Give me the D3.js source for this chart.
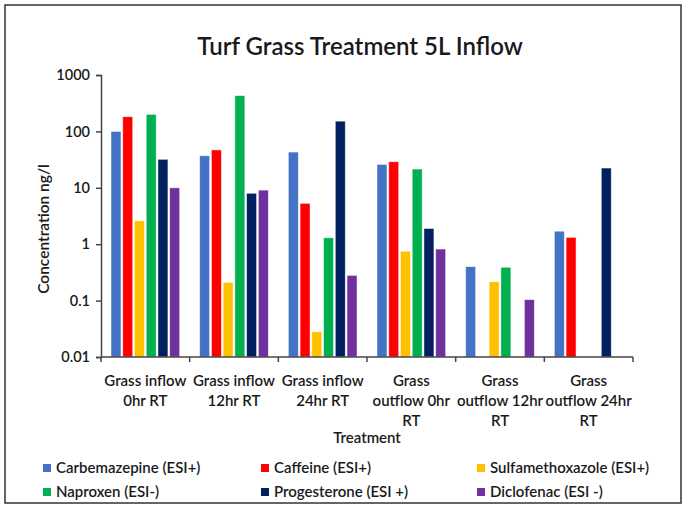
<!DOCTYPE html>
<html>
<head>
<meta charset="utf-8">
<script src="https://cdn.jsdelivr.net/npm/d3@7"></script>
<style>
  body { margin: 0; background: #fff; }
  text { font-family: Lato, "Open Sans", sans-serif; fill: #1a1a1a; font-weight: 600; }
</style>
</head>
<body>
<div class="canvas"></div>
<script>
const categories = [
  ["Grass inflow", "0hr RT"],
  ["Grass inflow", "12hr RT"],
  ["Grass inflow", "24hr RT"],
  ["Grass", "outflow 0hr", "RT"],
  ["Grass", "outflow 12hr", "RT"],
  ["Grass", "outflow 24hr", "RT"],
];

const seriesNames = [
  "Carbemazepine (ESI+)",
  "Caffeine (ESI+)",
  "Sulfamethoxazole (ESI+)",
  "Naproxen (ESI-)",
  "Progesterone (ESI +)",
  "Diclofenac (ESI -)",
];

const seriesColors = ["#4472C4", "#FF0000", "#FFC000", "#00B050", "#002060", "#7030A0"];

// one value per category, null = not detected
const carbemazepine = [100, 37, 43, 26, 0.4, 1.7];
const caffeine = [182, 47, 5.3, 29, null, 1.32];
const sulfamethoxazole = [2.6, 0.21, 0.028, 0.75, 0.216, null];
const naproxen = [200, 430, 1.3, 21.5, 0.39, null];
const progesterone = [32, 8, 152, 1.9, null, 22.4];
const diclofenac = [10, 9.1, 0.28, 0.82, 0.104, null];

const seriesValues = [carbemazepine, caffeine, sulfamethoxazole, naproxen, progesterone, diclofenac];

const yTicks = [0.01, 0.1, 1, 10, 100, 1000];

const dims = { width: 688, height: 506 };
const plot = { left: 101, right: 633, top: 75, bottom: 357 };

const svg = d3
  .select(".canvas")
  .append("svg")
  .attr("width", dims.width)
  .attr("height", dims.height);

// outer frame
svg
  .append("rect")
  .attr("x", 5)
  .attr("y", 5)
  .attr("width", 676)
  .attr("height", 498)
  .attr("fill", "#fff")
  .attr("stroke", "#333")
  .attr("stroke-width", 1.5);

svg
  .append("text")
  .attr("x", 360)
  .attr("y", 55)
  .attr("text-anchor", "middle")
  .attr("font-size", 24)
  .text("Turf Grass Treatment 5L Inflow");

const catIdx = categories.map((d, i) => i);

const x0 = d3.scaleBand().domain(catIdx).range([plot.left, plot.right]).padding(0);

const x1 = d3
  .scaleBand()
  .domain(seriesNames)
  .range([10, x0.bandwidth() - 10])
  .paddingInner(0.15);

const y = d3.scaleLog().domain([0.01, 1000]).range([plot.bottom, plot.top]);

// bars
const groups = svg
  .append("g")
  .selectAll("g")
  .data(seriesNames)
  .join("g")
  .attr("fill", (d, i) => seriesColors[i]);

groups
  .selectAll("rect")
  .data((d, i) =>
    seriesValues[i]
      .map((v, c) => ({ name: d, cat: c, value: v }))
      .filter((o) => o.value != null)
  )
  .join("rect")
  .attr("x", (d) => x0(d.cat) + x1(d.name))
  .attr("width", x1.bandwidth())
  .attr("y", (d) => y(d.value))
  .attr("height", (d) => plot.bottom - y(d.value))
  .attr("stroke", "#fff")
  .attr("stroke-opacity", 0.6)
  .attr("stroke-width", 0.8);

// y axis
const yAxis = svg
  .append("g")
  .attr("transform", `translate(${plot.left},0)`)
  .call(
    d3
      .axisLeft(y)
      .tickValues(yTicks)
      .tickFormat((d) => String(d))
      .tickSize(5)
      .tickPadding(6)
  );
yAxis.select(".domain").attr("stroke", "#444").attr("stroke-width", 1.5);
yAxis.selectAll(".tick line").attr("stroke", "#444").attr("stroke-width", 1.5);
yAxis
  .selectAll(".tick text")
  .attr("font-size", 14.5)
  .attr("font-family", "Lato, sans-serif")
  .attr("fill", "#1a1a1a");

// x axis line + category boundary ticks
const xAxis = svg.append("g");
xAxis
  .append("line")
  .attr("x1", plot.left)
  .attr("x2", plot.right)
  .attr("y1", plot.bottom)
  .attr("y2", plot.bottom)
  .attr("stroke", "#444")
  .attr("stroke-width", 1.5);

xAxis
  .selectAll("line.tk")
  .data(catIdx.concat([categories.length]))
  .join("line")
  .attr("class", "tk")
  .attr("x1", (d) => (d < categories.length ? x0(d) : plot.right))
  .attr("x2", (d) => (d < categories.length ? x0(d) : plot.right))
  .attr("y1", plot.bottom)
  .attr("y2", plot.bottom + 5)
  .attr("stroke", "#444")
  .attr("stroke-width", 1.5);

const xLabels = xAxis
  .selectAll("text.cat")
  .data(categories)
  .join("text")
  .attr("class", "cat")
  .attr("text-anchor", "middle")
  .attr("font-size", 15);

xLabels
  .selectAll("tspan")
  .data((d, i) => d.map((line, j) => ({ line, j, i })))
  .join("tspan")
  .attr("x", (d) => x0(d.i) + x0.bandwidth() / 2)
  .attr("y", (d) => 386 + d.j * 20)
  .text((d) => d.line);

svg
  .append("text")
  .attr("x", 367)
  .attr("y", 443)
  .attr("text-anchor", "middle")
  .attr("font-size", 15)
  .text("Treatment");

svg
  .append("text")
  .attr("transform", `translate(49,${(plot.top + plot.bottom) / 2 + 13}) rotate(-90)`)
  .attr("text-anchor", "middle")
  .attr("font-size", 15.5)
  .text("Concentration ng/l");

// legend
const legendX = [43, 261, 477];
const legendY = [468, 492];

const legend = svg
  .append("g")
  .selectAll("g")
  .data(seriesNames)
  .join("g")
  .attr("transform", (d, i) => `translate(${legendX[i % 3]},${legendY[Math.floor(i / 3)]})`);

legend
  .append("rect")
  .attr("x", 0)
  .attr("y", -4)
  .attr("width", 8)
  .attr("height", 8)
  .attr("fill", (d, i) => seriesColors[i]);

legend
  .append("text")
  .attr("x", 13)
  .attr("y", 5)
  .attr("font-size", 15)
  .text((d) => d);
</script>
</body>
</html>
